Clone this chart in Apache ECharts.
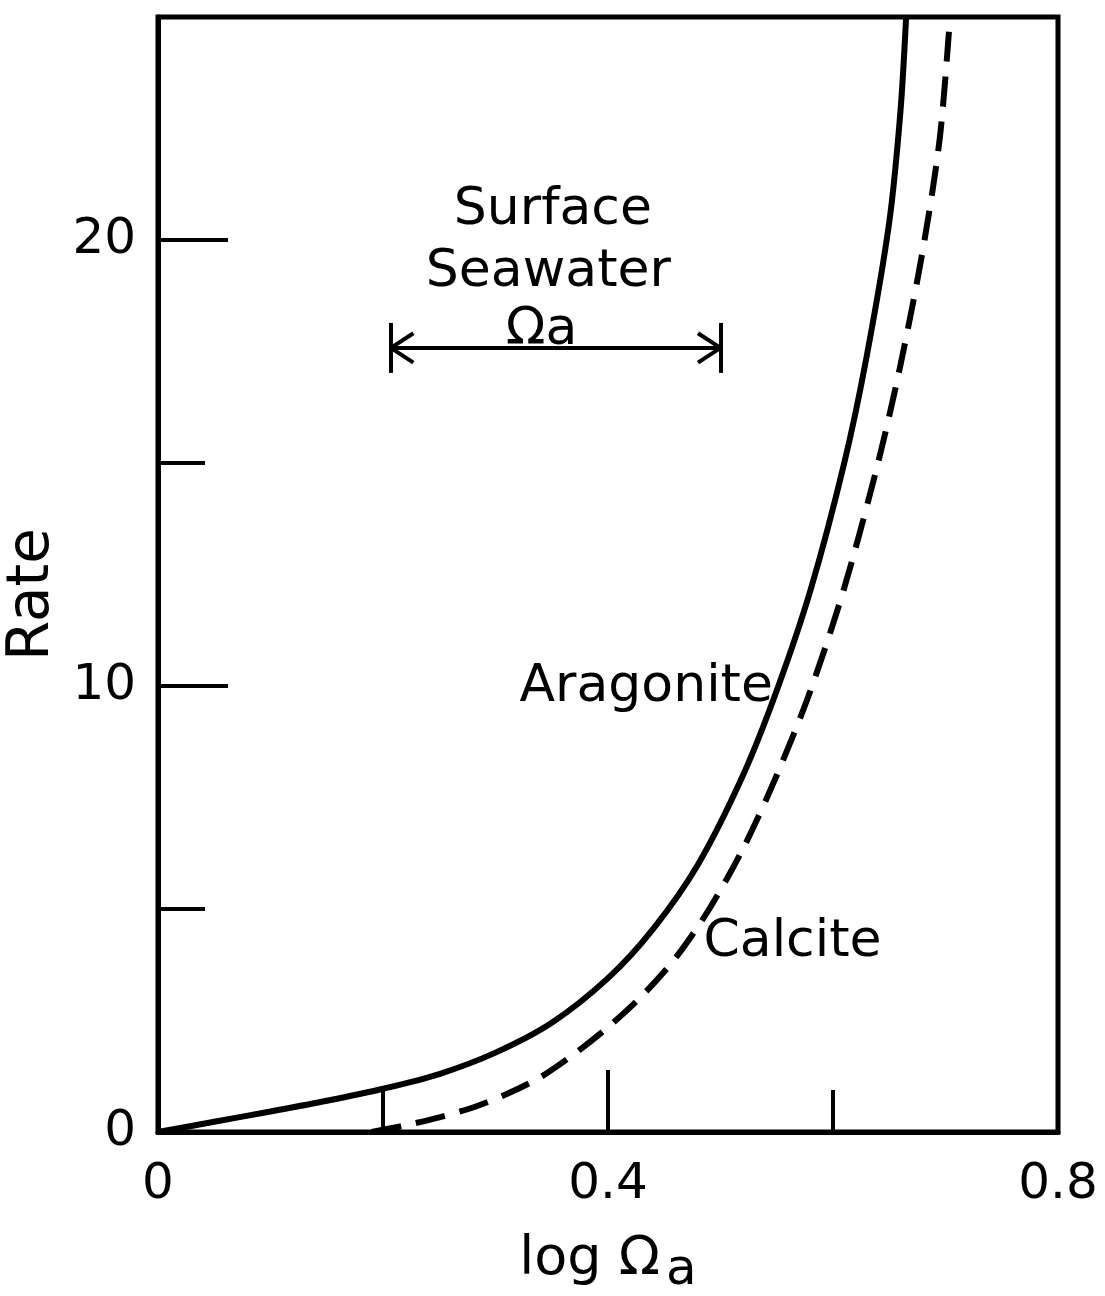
<!DOCTYPE html>
<html>
<head>
<meta charset="utf-8">
<script src="https://cdn.jsdelivr.net/npm/echarts@6/dist/echarts.min.js"></script>
<style>
  html, body { margin: 0; padding: 0; background: #fff; }
  #chart { width: 1105px; height: 1296px; }
</style>
</head>
<body>
<div id="chart"></div>
<script>
// log Omega_a vs rate
const aragoniteX = [0, 0.05, 0.10, 0.15, 0.20, 0.25, 0.30, 0.35, 0.40, 0.44, 0.48, 0.52, 0.55, 0.58, 0.61, 0.63, 0.65, 0.66, 0.665];
const aragoniteRate = [0, 0.23, 0.46, 0.70, 0.97, 1.30, 1.78, 2.45, 3.45, 4.55, 6.0, 8.0, 9.9, 12.15, 15.0, 17.4, 20.4, 22.9, 25];

const calciteX = [0.19, 0.22, 0.25, 0.28, 0.31, 0.34, 0.37, 0.40, 0.43, 0.46, 0.49, 0.52, 0.55, 0.58, 0.61, 0.64, 0.66, 0.68, 0.695, 0.704];
const calciteRate = [0, 0.15, 0.33, 0.55, 0.85, 1.23, 1.75, 2.35, 3.05, 3.9, 5.0, 6.35, 8.0, 9.9, 12.2, 15.0, 17.2, 19.8, 22.3, 25];

// text notes inside the plot
const noteNames = ["Surface", "Seawater", "Ωa", "Aragonite", "Calcite"];
const noteX = [0.351, 0.347, 0.341, 0.434, 0.564];
const noteRate = [20.67, 19.28, 17.98, 9.96, 4.26];

// surface seawater range bar
const rangeX = [0.207, 0.500];
const rangeRate = 17.58;

const xTickMajor = [0, 0.4, 0.8];
const yTickMajor = [0, 10, 20];
const yTickMinor = [5, 15];

const FONT = "DejaVu Sans";

const chart = echarts.init(document.getElementById("chart"));

const zip = (xs, ys) => xs.map((x, i) => [x, ys[i]]);

const seg = (a, b) => [{ coord: a }, { coord: b }];
const L = rangeX[0], R = rangeX[1], r = rangeRate;
const bar = 0.56, hx = 0.02, hy = 0.33;
const rangeLines = [
  seg([L, r], [R, r]),
  seg([L, r - bar], [L, r + bar]),
  seg([R, r - bar], [R, r + bar]),
  seg([L + hx, r + hy], [L, r]),
  seg([L, r], [L + hx, r - hy]),
  seg([R - hx, r + hy], [R, r]),
  seg([R, r], [R - hx, r - hy])
];

const option = {
  backgroundColor: "#fff",
  animation: false,
  grid: {
    left: 158, right: 47, top: 17, bottom: 164,
    outerBoundsMode: "none",
    containLabel: false,
    show: true, borderColor: "#000", borderWidth: 5
  },
  xAxis: {
    type: "value",
    min: 0, max: 0.8, interval: 0.4,
    name: "log Ω{sub|a}",
    nameLocation: "middle",
    nameGap: 92,
    nameTextStyle: {
      fontFamily: FONT, fontSize: 54, color: "#000",
      rich: { sub: { fontFamily: FONT, fontSize: 50, color: "#000", padding: [22, 0, 0, 6] } }
    },
    axisLine: { lineStyle: { color: "#000", width: 5 } },
    axisTick: { inside: true, length: 62, lineStyle: { color: "#000", width: 4 } },
    minorTick: { show: true, splitNumber: 2, length: 42, lineStyle: { color: "#000", width: 4 } },
    axisLabel: {
      margin: 28, fontFamily: FONT, fontSize: 50, color: "#000",
      formatter: v => xTickMajor.includes(v) ? String(v) : ""
    },
    splitLine: { show: false }
  },
  yAxis: [
    {
      type: "value",
      min: 0, max: 25,
      name: "Rate",
      nameLocation: "middle",
      nameGap: 88,
      nameRotate: 90,
      nameTextStyle: { fontFamily: FONT, fontSize: 58, color: "#000", padding: [0, 40, 0, 0] },
      axisLine: { lineStyle: { color: "#000", width: 5 } },
      axisTick: { inside: true, length: 70, customValues: yTickMajor, lineStyle: { color: "#000", width: 4 } },
      axisLabel: { margin: 22, fontFamily: FONT, fontSize: 50, color: "#000", customValues: yTickMajor },
      splitLine: { show: false }
    },
    {
      type: "value",
      min: 0, max: 25,
      position: "left",
      axisLine: { show: false },
      axisTick: { inside: true, length: 47, customValues: yTickMinor, lineStyle: { color: "#000", width: 4 } },
      axisLabel: { show: false },
      splitLine: { show: false }
    }
  ],
  series: [
    {
      name: "Aragonite",
      type: "line",
      data: zip(aragoniteX, aragoniteRate),
      showSymbol: false,
      smooth: 0.3,
      lineStyle: { color: "#000", width: 6 }
    },
    {
      name: "Calcite",
      type: "line",
      data: zip(calciteX, calciteRate),
      showSymbol: false,
      smooth: 0.3,
      lineStyle: { color: "#000", width: 6, type: [30, 15] }
    },
    {
      name: "notes",
      type: "scatter",
      symbolSize: 0,
      itemStyle: { opacity: 1 },
      emphasis: { disabled: true },
      data: noteNames.map((n, i) => ({ name: n, value: [noteX[i], noteRate[i]] })),
      label: {
        show: true, position: "inside", formatter: "{b}",
        fontFamily: FONT, fontSize: 52, color: "#000", opacity: 1
      },
      markLine: {
        silent: true,
        symbol: "none",
        label: { show: false },
        lineStyle: { color: "#000", width: 4, type: "solid", opacity: 1 },
        data: rangeLines
      }
    }
  ]
};

chart.setOption(option);
window.addEventListener("resize", () => chart.resize());
</script>
</body>
</html>
